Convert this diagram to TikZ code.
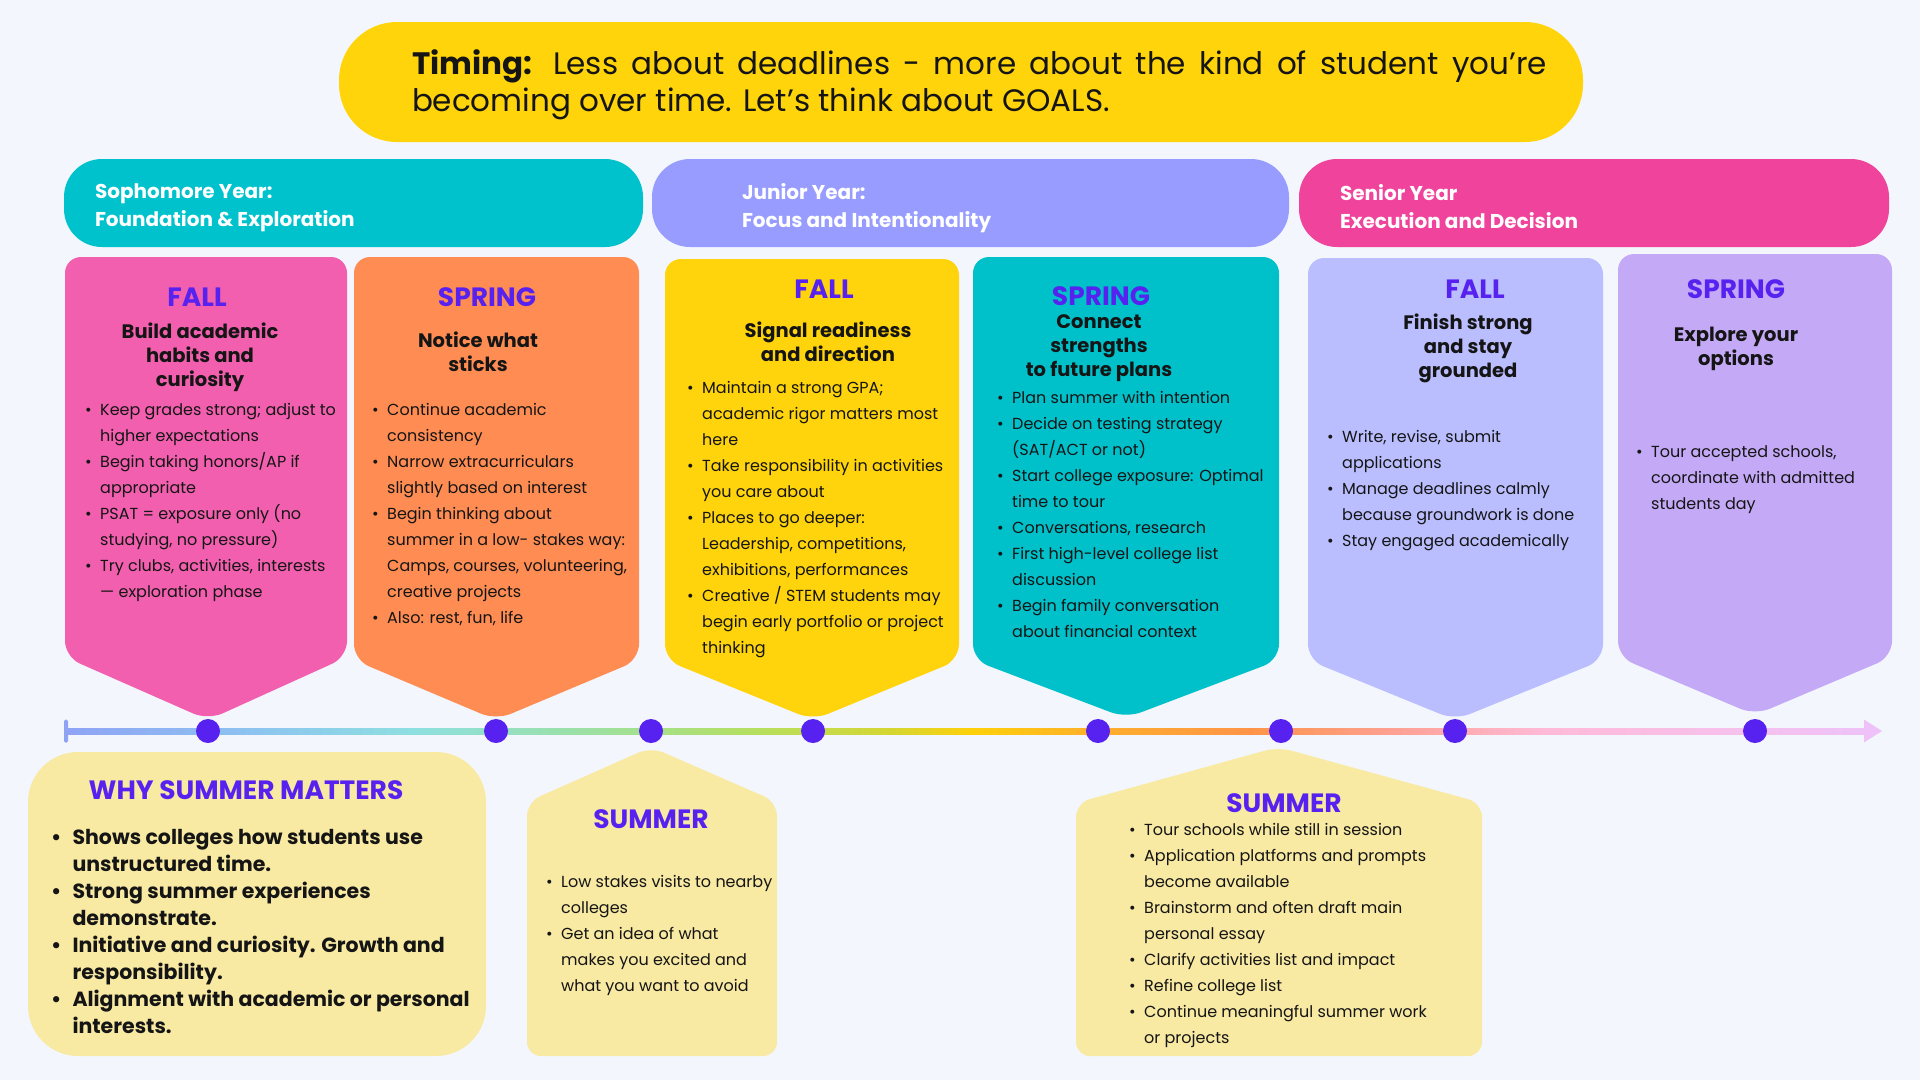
\documentclass[tikz,border=0pt]{standalone}
\usepackage{fontspec}
\setmainfont{Poppins}
\setsansfont{Poppins}
\usetikzlibrary{positioning}
\definecolor{bg}{HTML}{F3F7FD}
\definecolor{ink}{HTML}{151515}
\definecolor{violetInk}{HTML}{5722F0}
\definecolor{gold}{HTML}{FFD40A}
\definecolor{sophTeal}{HTML}{00C2CC}
\definecolor{juniorBlue}{HTML}{979CFE}
\definecolor{seniorPink}{HTML}{F0449C}
\definecolor{fallPink}{HTML}{F25FAE}
\definecolor{springOrange}{HTML}{FF8C52}
\definecolor{fallYellow}{HTML}{FFD40C}
\definecolor{springTeal}{HTML}{00C0CA}
\definecolor{fallLilac}{HTML}{BABEFF}
\definecolor{springLilac}{HTML}{C4A9F6}
\definecolor{summerFill}{HTML}{F8E9A3}
\definecolor{tlA}{HTML}{8FA3F5}
\definecolor{tlB}{HTML}{8DC3F0}
\definecolor{tlC}{HTML}{8EE0E0}
\definecolor{tlD}{HTML}{9DE0A0}
\definecolor{tlE}{HTML}{B5DF60}
\definecolor{tlF}{HTML}{D6D632}
\definecolor{tlG}{HTML}{FFD00A}
\definecolor{tlH}{HTML}{FFB02A}
\definecolor{tlI}{HTML}{FF9448}
\definecolor{tlJ}{HTML}{FFA090}
\definecolor{tlK}{HTML}{FFBAD8}
\definecolor{tlL}{HTML}{F6C0EC}
\definecolor{tlM}{HTML}{EEC2F8}
\pgfdeclarehorizontalshading{timeline}{100bp}{color(0bp)=(tlA); color(25bp)=(tlA);
  color(30.07bp)=(tlB); color(34.75bp)=(tlC); color(39.7bp)=(tlD); color(44.1bp)=(tlE);
  color(47.96bp)=(tlF); color(50.2bp)=(tlG); color(53.5bp)=(tlH); color(57.9bp)=(tlI);
  color(61.7bp)=(tlJ); color(66.1bp)=(tlK); color(71.4bp)=(tlL); color(75bp)=(tlM); color(100bp)=(tlM)}
\newcommand{\itm}[1][15pt]{\makebox[#1][l]{\textbullet}}
\newcommand{\cnt}[1][15pt]{\makebox[#1]{}}
\tikzset{
  base/.style={font=\sffamily, text=ink},
  yearpill/.style={rounded corners=38pt, minimum height=88pt},
  yeartext/.style={base, font=\sffamily\bfseries\fontsize{20}{28}\selectfont, text=white, align=left, anchor=west, inner sep=0pt},
  season/.style={base, font=\sffamily\bfseries\fontsize{26.5}{30}\selectfont, text=violetInk, inner sep=0pt},
  goal/.style={base, font=\sffamily\bfseries\fontsize{19.5}{24}\selectfont, align=center, inner sep=0pt},
  bullets/.style={base, font=\sffamily\fontsize{16}{26}\selectfont, align=left, anchor=north west, inner sep=0pt},
  boldbullets/.style={bullets, font=\sffamily\bfseries\fontsize{20.5}{27}\selectfont},
  card/.style={rounded corners=16pt},
  house/.style={fill=summerFill, rounded corners=14pt},
  dot/.style={circle, fill=violetInk, minimum size=24pt, inner sep=0pt},
}

\begin{document}
\begin{tikzpicture}[x=1pt,y=-1pt]
  \useasboundingbox (0,0) rectangle (1920,1080);
  \fill[bg] (0,0) rectangle (1920,1080);

  % timing banner
  \node[fill=gold, rounded corners=58pt, minimum width=1244pt, minimum height=120pt] (timing) at (961,82) {};
  \node[base, font=\sffamily\fontsize{31}{37}\selectfont, text width=1135pt, align=justify, anchor=west, inner sep=0pt] (timingtxt) at ([xshift=73pt,yshift=-3pt]timing.west) {\textbf{Timing:} Less about deadlines - more about the kind of student you’re\linebreak becoming over time. Let’s think about GOALS.};

  % years
  \node[yearpill, fill=sophTeal, minimum width=579pt] (soph) at (353.5,203) {};
  \node[yeartext] (sophtxt) at ([xshift=31pt,yshift=-5pt]soph.west) {Sophomore Year:\\Foundation \& Exploration};
  \node[yearpill, fill=juniorBlue, minimum width=637pt] (junior) at (970.5,203) {};
  \node[yeartext] (juniortxt) at ([xshift=90pt,yshift=-5pt]junior.west) {Junior Year:\\Focus and Intentionality};
  \node[yearpill, fill=seniorPink, minimum width=590pt] (senior) at (1594,203) {};
  \node[yeartext] (seniortxt) at ([xshift=41pt,yshift=-4pt]senior.west) {Senior Year\\Execution and Decision};

  % season cards
  \fill[card, fallPink] (65,257) -- (347,257) -- (347,657) -- (208,720) -- (65,657) -- cycle;
  \fill[card, springOrange] (354,257) -- (639,257) -- (639,660) -- (496,720) -- (354,660) -- cycle;
  \fill[card, fallYellow] (665,259) -- (959,259) -- (959,660) -- (813,720) -- (665,660) -- cycle;
  \fill[card, springTeal] (973,257) -- (1279,257) -- (1279,660) -- (1126,718) -- (973,660) -- cycle;
  \fill[card, fallLilac] (1308,258) -- (1603,258) -- (1603,660) -- (1455,720) -- (1308,660) -- cycle;
  \fill[card, springLilac] (1618,254) -- (1892,254) -- (1892,657) -- (1755,715) -- (1618,657) -- cycle;

  \node[season] (s1) at (197,297) {FALL};
  \node[goal] (g1) at (200,357) {Build academic\\habits and\\curiosity};
  \node[bullets] (b1) at (85,403) {\itm Keep grades strong; adjust to\\\cnt higher expectations\\\itm Begin taking honors/AP if\\\cnt appropriate\\\itm PSAT = exposure only (no\\\cnt studying, no pressure)\\\itm Try clubs, activities, interests\\\cnt — exploration phase};

  \node[season] (s2) at (487,297) {SPRING};
  \node[goal] (g2) at (478,352) {Notice what\\sticks};
  \node[bullets] (b2) at (372,403) {\itm Continue academic\\\cnt consistency\\\itm Narrow extracurriculars\\\cnt slightly based on interest\\\itm Begin thinking about\\\cnt summer in a low- stakes way:\\\cnt Camps, courses, volunteering,\\\cnt creative projects\\\itm Also: rest, fun, life};

  \node[season] (s3) at (824,289) {FALL};
  \node[goal] (g3) at (828,342) {Signal readiness\\and direction};
  \node[bullets] (b3) at (687,381) {\itm Maintain a strong GPA;\\\cnt academic rigor matters most\\\cnt here\\\itm Take responsibility in activities\\\cnt you care about\\\itm Places to go deeper:\\\cnt Leadership, competitions,\\\cnt exhibitions, performances\\\itm Creative / STEM students may\\\cnt begin early portfolio or project\\\cnt thinking};

  \node[season] (s4) at (1101,296) {SPRING};
  \node[goal] (g4) at (1099,348) {Connect\\strengths\\to future plans};
  \node[bullets] (b4) at (997,391) {\itm Plan summer with intention\\\itm Decide on testing strategy\\\cnt (SAT/ACT or not)\\\itm Start college exposure: Optimal\\\cnt time to tour\\\itm Conversations, research\\\itm First high-level college list\\\cnt discussion\\\itm Begin family conversation\\\cnt about financial context};

  \node[season] (s5) at (1475,289) {FALL};
  \node[goal] (g5) at (1468,348) {Finish strong\\and stay\\grounded};
  \node[bullets] (b5) at (1327,430) {\itm Write, revise, submit\\\cnt applications\\\itm Manage deadlines calmly\\\cnt because groundwork is done\\\itm Stay engaged academically};

  \node[season] (s6) at (1736,289) {SPRING};
  \node[goal] (g6) at (1736,349) {Explore your\\options};
  \node[bullets] (b6) at (1636,445) {\itm Tour accepted schools,\\\cnt coordinate with admitted\\\cnt students day};

  % timeline
  \coordinate (tstart) at (66,731);
  \coordinate (tend) at (1882,731);
  \shade[shading=timeline] ([yshift=3pt]tstart) rectangle ([xshift=-16pt,yshift=-3pt]tend);
  \fill[tlA, rounded corners=1.5pt] ([xshift=-2pt,yshift=11.5pt]tstart) rectangle ([xshift=2pt,yshift=-11.5pt]tstart);
  \fill[tlM] ([xshift=-18pt,yshift=11.5pt]tend) -- (tend) -- ([xshift=-18pt,yshift=-11.5pt]tend) -- cycle;
  \foreach \x [count=\i] in {208,496,651,813,1098,1281,1455,1755}
    \node[dot] (d\i) at (\x,731) {};

  % summer
  \fill[summerFill, rounded corners=50pt] (28,752) rectangle (486,1056);
  \node[season] (why) at (246,790) {WHY SUMMER MATTERS};
  \node[boldbullets] (wb) at (51,829) {\itm[17pt] Shows colleges how students use\\\cnt[17pt] unstructured time.\\\itm[17pt] Strong summer experiences\\\cnt[17pt] demonstrate.\\\itm[17pt] Initiative and curiosity. Growth and\\\cnt[17pt] responsibility.\\\itm[17pt] Alignment with academic or personal\\\cnt[17pt] interests.};

  \fill[house] (527,1056) -- (527,802) -- (651,747) -- (777,802) -- (777,1056) -- cycle;
  \node[season] (sum1) at (651,819) {SUMMER};
  \node[bullets] (sb1) at (546,875) {\itm Low stakes visits to nearby\\\cnt colleges\\\itm Get an idea of what\\\cnt makes you excited and\\\cnt what you want to avoid};

  \fill[house] (1076,1056) -- (1076,803) -- (1278,747) -- (1482,803) -- (1482,1056) -- cycle;
  \node[season] (sum2) at (1284,803) {SUMMER};
  \node[bullets] (sb2) at (1129,823) {\itm Tour schools while still in session\\\itm Application platforms and prompts\\\cnt become available\\\itm Brainstorm and often draft main\\\cnt personal essay\\\itm Clarify activities list and impact\\\itm Refine college list\\\itm Continue meaningful summer work\\\cnt or projects};
\end{tikzpicture}
\end{document}
